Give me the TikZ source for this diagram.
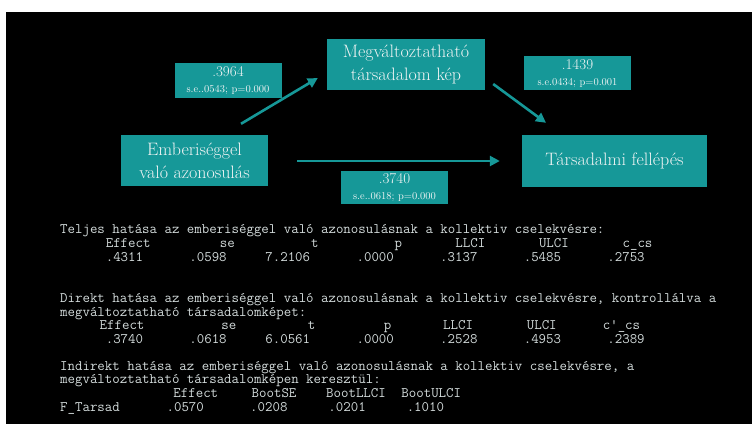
\documentclass[tikz,border=0pt]{standalone}
\usepackage{fontspec}
\usetikzlibrary{arrows.meta}
\definecolor{teal1}{RGB}{22,152,152}
\definecolor{boxtxt}{RGB}{240,244,244}
\definecolor{montxt}{RGB}{212,220,220}
\newlength\cw \setlength\cw{7.6pt}
\newcommand\at[2]{\rlap{\hspace*{#1\cw}#2}}
\begin{document}
\begin{tikzpicture}[x=1pt,y=-1pt,
  vbox/.style={fill=teal1, text=boxtxt, inner sep=0pt, align=center,
    font=\fontsize{18}{23}\selectfont},
  lbl/.style={fill=teal1, text=boxtxt, inner sep=0pt, align=center,
    minimum width=107pt, font=\fontsize{15}{16}\selectfont},
  arr/.style={draw=teal1, line width=2.6pt, -{Triangle[length=10pt,width=10pt]}},
  mono/.style={anchor=mid west, inner sep=0pt, text=montxt,
    text height=7.5pt, text depth=2pt,
    font=\ttfamily\fontsize{14.476}{16}\selectfont}]
\useasboundingbox (0,0) rectangle (752,424);
\fill[white] (0,0) rectangle (752,424);
\fill[black] (6,12) rectangle (752,424);

% boxes
\node[vbox, minimum width=158pt, minimum height=51pt] (megv) at (406,64.5)
  {Megváltoztatható\\társadalom kép};
\node[vbox, minimum width=147pt, minimum height=51pt] (emb) at (194.5,160.5)
  {Emberiséggel\\való azonosulás};
\node[vbox, minimum width=185pt, minimum height=52pt] (tars) at (614.5,161)
  {Társadalmi fellépés};

% coefficient labels
\node[lbl, minimum height=35pt] (l1) at (228,80.5)
  {.3964\\{\fontsize{10.5}{12}\selectfont s.e..0543; p=0.000}};
\node[lbl, minimum height=34pt] (l2) at (577.5,73)
  {.1439\\{\fontsize{10.5}{12}\selectfont s.e.0434; p=0.001}};
\node[lbl, minimum height=33pt] (l3) at (394.5,187.5)
  {.3740\\{\fontsize{10.5}{12}\selectfont s.e..0618; p=0.000}};

% arrows
\draw[arr] ([shift={(46.5,-11)}]emb.north) -- ([shift={(-9,13.5)}]megv.west);
\draw[arr] ([shift={(8,19.5)}]megv.east) -- ([shift={(-68.5,-12)}]tars.north);
\draw[arr] ([shift={(29,0.5)}]emb.east) -- ([shift={(-22,0)}]tars.west);

% output text block 1
\node[mono] (a1) at (60,231.5) {Teljes hatása az emberiséggel való azonosulásnak a kollektiv cselekvésre:};
\node[mono] (a2) at (60,245.5) {\at{6}{Effect}\at{21}{se}\at{33}{t}\at{44}{p}\at{52}{LLCI}\at{63}{ULCI}\at{74}{c\_cs}\hspace*{78\cw}};
\node[mono] (a3) at (60,259) {\at{6}{.4311}\at{17}{.0598}\at{27}{7.2106}\at{39}{.0000}\at{50}{.3137}\at{61}{.5485}\at{72}{.2753}\hspace*{77\cw}};

% output text block 2
\node[mono] (b1) at (60,300) {Direkt hatása az emberiséggel való azonosulásnak a kollektiv cselekvésre, kontrollálva a};
\node[mono] (b2) at (60,314) {megváltoztatható társadalomképet:};
\node[mono] (b3) at (60,327.5) {\at{5.2}{Effect}\at{21.2}{se}\at{32.6}{t}\at{42.6}{p}\at{50.4}{LLCI}\at{61.4}{ULCI}\at{71.4}{c\textquotesingle\_cs}\hspace*{77\cw}};
\node[mono] (b4) at (60,341) {\at{6}{.3740}\at{17}{.0618}\at{27}{6.0561}\at{39}{.0000}\at{50}{.2528}\at{61}{.4953}\at{72}{.2389}\hspace*{77\cw}};

% output text block 3
\node[mono] (c1) at (60,368.5) {Indirekt hatása az emberiséggel való azonosulásnak a kollektiv cselekvésre, a};
\node[mono] (c2) at (60,381.5) {megváltoztatható társadalomképen keresztül:};
\node[mono] (c3) at (60,395.5) {\at{14.9}{Effect}\at{25.2}{BootSE}\at{35}{BootLLCI}\at{44.9}{BootULCI}\hspace*{53\cw}};
\node[mono] (c4) at (60,409) {\at{0}{F\_Tarsad}\at{14}{.0570}\at{25}{.0208}\at{35.3}{.0201}\at{45.6}{.1010}\hspace*{51\cw}};
\end{tikzpicture}
\end{document}
